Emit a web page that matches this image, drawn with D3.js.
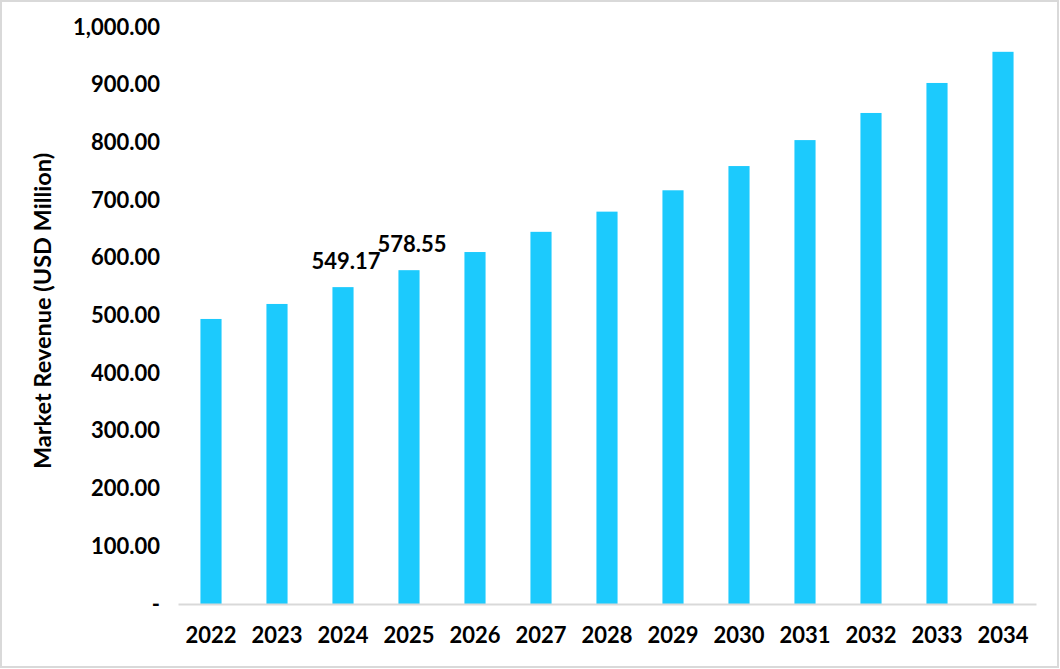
<!DOCTYPE html>
<html><head><meta charset="utf-8">
<script src="https://cdn.jsdelivr.net/npm/d3@7"></script>
<style>body{margin:0;background:#fff}svg{display:block}</style>
</head><body>
<svg id="c" width="1060" height="669"></svg>
<script>
const years = ["2022","2023","2024","2025","2026","2027","2028","2029","2030","2031","2032","2033","2034"];
const revenue = [494, 520, 549.17, 578.55, 610, 645, 680, 717, 759, 804, 851, 903, 957];
const labeledYears = ["2024","2025"];
const yTicks = [0,100,200,300,400,500,600,700,800,900,1000];

const svg = d3.select("#c");
const font = "Lato, 'Open Sans', sans-serif";
svg.append("rect").attr("x",1).attr("y",1).attr("width",1057).attr("height",666)
  .attr("fill","#fff").attr("stroke","#d9d9d9").attr("stroke-width",2);

const x = d3.scaleBand().domain(years).range([178,1036]).paddingInner(0.68).paddingOuter(0.34);
const y = d3.scaleLinear().domain([0,1000]).range([604,27]);

const fmt = v => v===0 ? "-" : d3.format(",.2f")(v);
const ya = svg.append("g").attr("transform","translate(178,0)")
  .call(d3.axisLeft(y).tickValues(yTicks).tickFormat(fmt).tickSize(0).tickPadding(18));
ya.select(".domain").remove();
ya.selectAll("text").attr("font-family",font).attr("font-weight","bold").attr("font-size",22).attr("fill","#000");

svg.selectAll("rect.bar").data(years).enter().append("rect").attr("class","bar")
  .attr("x",d=>x(d)).attr("width",x.bandwidth())
  .attr("y",(d,i)=>y(revenue[i])).attr("height",(d,i)=>y(0)-y(revenue[i]))
  .attr("fill","#1CCAFD");

const xa = svg.append("g").attr("transform","translate(0,604)")
  .call(d3.axisBottom(x).tickSize(0).tickPadding(23));
xa.select(".domain").attr("stroke","#d9d9d9").attr("stroke-width",2);
xa.selectAll("text").attr("font-family",font).attr("font-weight","bold").attr("font-size",22).attr("fill","#000");

svg.selectAll("text.lbl").data(labeledYears).enter().append("text").attr("class","lbl")
  .attr("x",d=>x(d)+x.bandwidth()/2+3).attr("y",d=>y(revenue[years.indexOf(d)])-18)
  .attr("text-anchor","middle").attr("font-family",font).attr("font-weight","bold")
  .attr("font-size",22).attr("fill","#000")
  .text(d=>d3.format(".2f")(revenue[years.indexOf(d)]));

svg.append("text").attr("transform","translate(51,311) rotate(-90)")
  .attr("text-anchor","middle").attr("font-family",font).attr("font-weight","bold")
  .attr("font-size",23.5).attr("fill","#000").text("Market Revenue (USD Million)");
</script>
</body></html>
